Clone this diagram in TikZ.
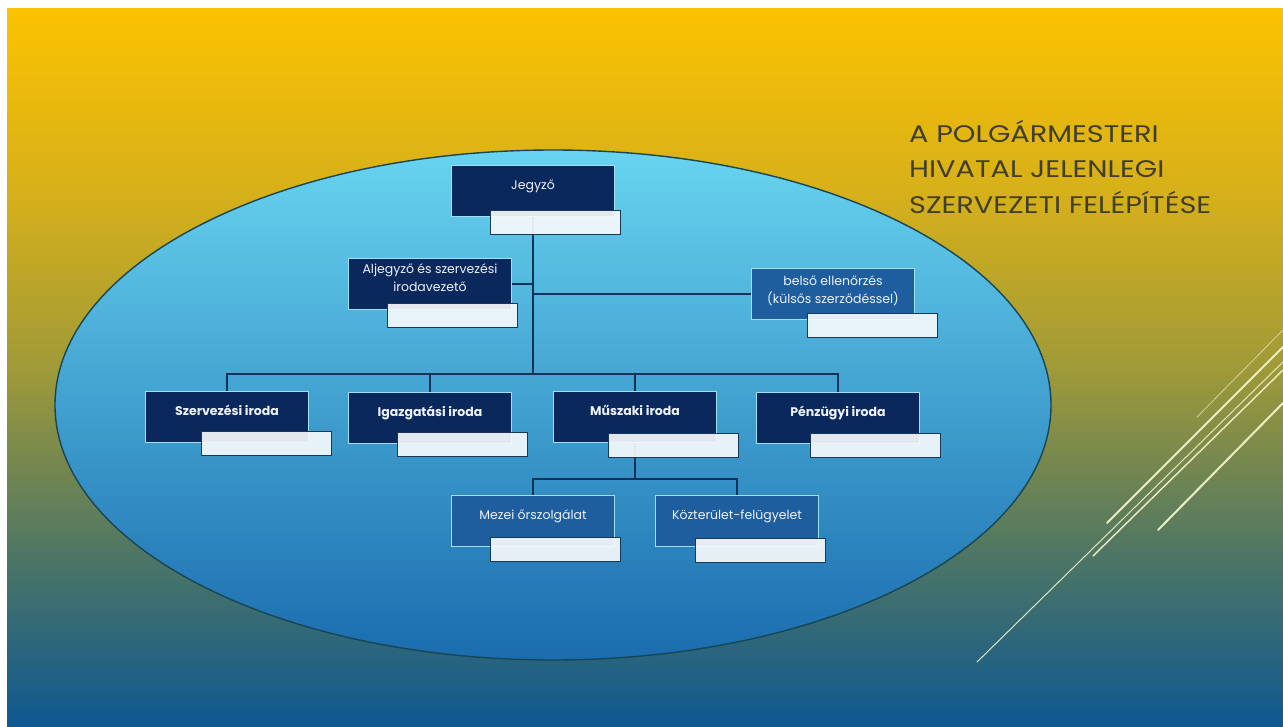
\documentclass[tikz,border=0pt]{standalone}
\usepackage{fontspec}
\setmainfont{Poppins}
\definecolor{bgtop}{RGB}{251,194,0}
\definecolor{bgmid1}{RGB}{214,176,26}
\definecolor{bgmid2}{RGB}{160,154,56}
\definecolor{bgmid3}{RGB}{78,118,100}
\definecolor{bgbot}{RGB}{14,88,145}
\definecolor{elltop}{RGB}{104,212,240}
\definecolor{ellbot}{RGB}{26,108,174}
\definecolor{ellipseedge}{RGB}{24,70,84}
\definecolor{navy}{RGB}{10,40,92}
\definecolor{midblue}{RGB}{30,94,158}
\definecolor{boxedge}{RGB}{160,224,246}
\definecolor{boxtext}{RGB}{238,242,248}
\definecolor{tabfill}{RGB}{246,249,252}
\definecolor{tabedge}{RGB}{24,56,88}
\definecolor{linecol}{RGB}{16,50,88}
\definecolor{titlecol}{RGB}{66,62,44}
\definecolor{decocol}{RGB}{238,238,196}
\pgfdeclareverticalshading{slidebg}{100bp}{color(0bp)=(bgbot); color(25bp)=(bgbot);
  color(37bp)=(bgmid3); color(50bp)=(bgmid2); color(62bp)=(bgmid1); color(75bp)=(bgtop); color(100bp)=(bgtop)}
\begin{document}
\begin{tikzpicture}[x=1pt, y=-1pt,
  box/.style={draw=boxedge, line width=1.3pt, fill=navy, text=boxtext,
              minimum width=163pt, minimum height=51pt, inner sep=2pt,
              font=\fontsize{12.5}{18}\selectfont, align=center,
              text height=8pt, text depth=11pt},
  twoline/.style={text height=26pt},
  boldbox/.style={box, font=\fontsize{12.5}{18}\selectfont\bfseries},
  lightbox/.style={box, fill=midblue},
  tab/.style={draw=tabedge, line width=1pt, fill=tabfill, fill opacity=.92,
              minimum width=130pt, minimum height=24pt, inner sep=0pt},
  link/.style={draw=linecol, line width=1.4pt},
  deco/.style={draw=decocol, line cap=round}]
  \useasboundingbox (0,0) rectangle (1283,726);
  \fill[white] (0,0) rectangle (1283,726);
  \shade[shading=slidebg] (7,8) rectangle (1283,726);
  \draw[deco, line width=.8pt, draw opacity=.7] (1197,417) -- (1283,330);
  \draw[deco, line width=2pt] (1107,523) -- (1283,347);
  \draw[deco, line width=1.4pt] (1093,556) -- (1283,370);
  \draw[deco, line width=.9pt] (977,662) -- (1283,362);
  \draw[deco, line width=2pt] (1158,530) -- (1283,403);
  \draw[draw=ellipseedge, line width=1.4pt, top color=elltop, bottom color=ellbot]
    (553,405) ellipse [x radius=498, y radius=255];
  \node[anchor=north west, align=left, text=titlecol, inner sep=0pt,
        font=\fontsize{24}{35.5}\selectfont\addfontfeatures{FakeStretch=1.2}] (title) at (909,120)
    {A POLGÁRMESTERI\\HIVATAL JELENLEGI\\SZERVEZETI FELÉPÍTÉSE};
  \node[box] (jegyzo) at (533,191) {Jegyző};
  \node[box, twoline] (aljegyzo) at (430,284) {Aljegyző és szervezési\\irodavezető};
  \node[lightbox, twoline, text depth=7pt] (belso) at (833,294) {belső ellenőrzés\\(külsős szerződéssel)};
  \node[boldbox] (szerv) at (227,417) {Szervezési iroda};
  \node[boldbox] (igaz) at (430,418) {Igazgatási iroda};
  \node[boldbox] (musz) at (635,417) {Műszaki iroda};
  \node[boldbox] (penz) at (838,418) {Pénzügyi iroda};
  \node[lightbox] (mezei) at (533,521) {Mezei őrszolgálat};
  \node[lightbox] (kozt) at (737,521) {Közterület-felügyelet};
  \coordinate (bus) at (533,374);
  \coordinate (bus2) at (635,479);
  \draw[link] (jegyzo.south) -- (bus);
  \draw[link] (aljegyzo.east) -- (aljegyzo.east -| bus);
  \draw[link] (belso.west) -- (belso.west -| bus);
  \draw[link] (szerv.north) |- (bus) -| (penz.north);
  \draw[link] (igaz.north) -- (igaz.north |- bus);
  \draw[link] (musz.north) -- (musz.north |- bus);
  \draw[link] (musz.south) -- (bus2);
  \draw[link] (mezei.north) |- (bus2) -| (kozt.north);
  \node[tab] (jegyzo-t) at (555,222) {};
  \node[tab] (aljegyzo-t) at (452,315) {};
  \node[tab] (belso-t) at (872,325) {};
  \node[tab] (szerv-t) at (266,443) {};
  \node[tab] (igaz-t) at (462,444) {};
  \node[tab] (musz-t) at (673,445) {};
  \node[tab] (penz-t) at (875,445) {};
  \node[tab] (mezei-t) at (555,549) {};
  \node[tab] (kozt-t) at (760,550) {};
\end{tikzpicture}
\end{document}
